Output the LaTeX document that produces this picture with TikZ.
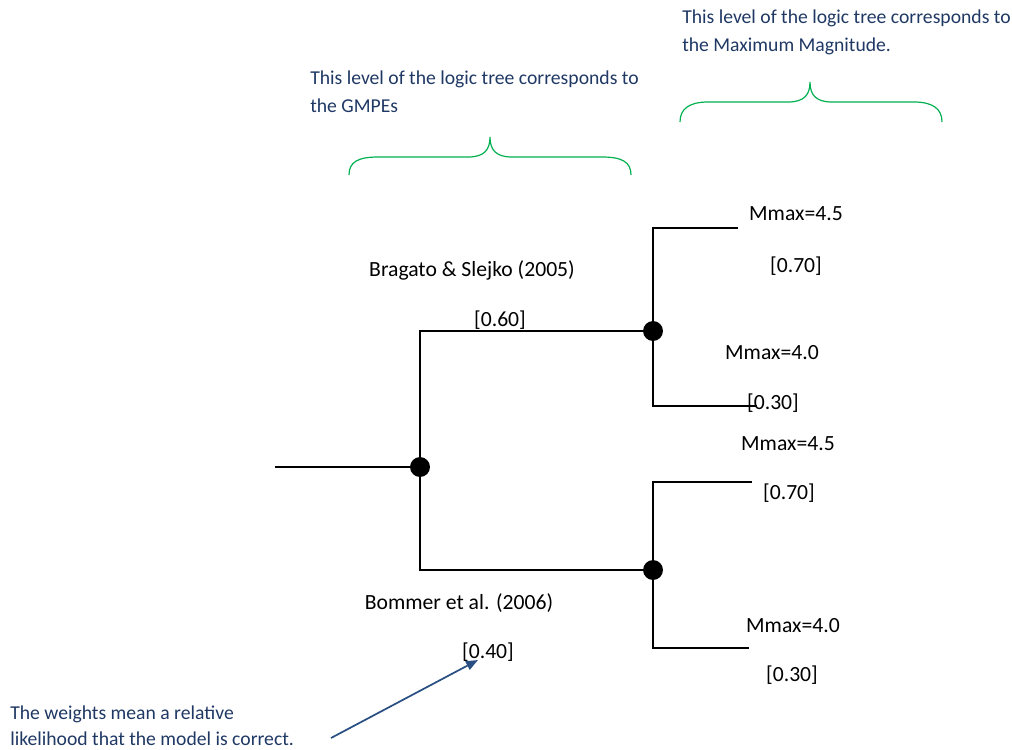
\documentclass[tikz,border=0pt]{standalone}
\usepackage{fontspec}
\setmainfont{Carlito}
\usetikzlibrary{arrows.meta,positioning}
\definecolor{notecol}{RGB}{31,56,100}
\definecolor{bracecol}{RGB}{0,176,80}
\definecolor{arrowcol}{RGB}{41,79,130}

\tikzset{
  branch/.style={line width=1pt, black},
  chance/.style={circle, fill=black, inner sep=0pt, minimum size=15pt},
  lbl/.style={font=\fontsize{16.3}{19}\selectfont, inner sep=0pt},
  note/.style={notecol, align=left, anchor=west, inner sep=0pt, font=\fontsize{14.8}{21}\selectfont},
  levelbrace/.style={bracecol, line width=0.9pt},
}

\begin{document}
\begin{tikzpicture}[x=0.0264583cm, y=-0.0264583cm]
  \useasboundingbox (0,0) rectangle (1012,749);

  % Chance nodes
  \node[chance] (root) at (420,467) {};
  \node[chance] (gmpeA) at (653,331) {};
  \node[chance] (gmpeB) at (653,570) {};
  \coordinate (start) at (275,467);

  % Branch ends
  \coordinate (endA1) at (738,228);
  \coordinate (endA2) at (757,406);
  \coordinate (endB1) at (752,482);
  \coordinate (endB2) at (749,648);

  % Tree
  \draw[branch] (start) -- (root);
  \draw[branch] (root.center) |- (gmpeA.center);
  \draw[branch] (root.center) |- (gmpeB.center);
  \draw[branch] (gmpeA.center) |- (endA1);
  \draw[branch] (gmpeA.center) |- (endA2);
  \draw[branch] (gmpeB.center) |- (endB1);
  \draw[branch] (gmpeB.center) |- (endB2);

  % GMPE branches
  \node[lbl] (bragato) at (472,270) {Bragato \& Slejko (2005)};
  \node[lbl] (wA) at (500,320) {[0.60]};
  \node[lbl] (bommer) at (459,603) {Bommer et al. (2006)};
  \node[lbl] (wB) at (488,652) {[0.40]};

  % Mmax branches
  \node[lbl] (mA1) at (796,214) {Mmax=4.5};
  \node[lbl] (wA1) at (796,266) {[0.70]};
  \node[lbl] (mA2) at (772,353) {Mmax=4.0};
  \node[lbl] (wA2) at (773,403) {[0.30]};
  \node[lbl] (mB1) at (788,444) {Mmax=4.5};
  \node[lbl] (wB1) at (789,493) {[0.70]};
  \node[lbl] (mB2) at (793,626) {Mmax=4.0};
  \node[lbl] (wB2) at (792,675) {[0.30]};

  % Level notes
  \node[note] (gmpeNote) at (310,92) {This level of the logic tree corresponds to\\the GMPEs};
  \node[note] (mmaxNote) at (682,32) {This level of the logic tree corresponds to\\the Maximum Magnitude.};

  % Braces
  \draw[levelbrace] (349,175) .. controls (349,162) and (358,157) .. (378,157) -- (468,157)
    .. controls (484,157) and (490,150) .. (490,137)
    .. controls (490,150) and (496,157) .. (512,157) -- (602,157)
    .. controls (622,157) and (631,162) .. (631,175);
  \draw[levelbrace] (680,122) .. controls (680,109) and (689,102) .. (708,102) -- (788,102)
    .. controls (804,102) and (810,95) .. (810,82)
    .. controls (810,95) and (816,102) .. (832,102) -- (914,102)
    .. controls (933,102) and (942,109) .. (942,122);

  % Weights note
  \node[note, font=\fontsize{14.8}{19.5}\selectfont] (weightNote) at (10,726) {The weights mean a relative\\likelihood that the model is correct.};
  \coordinate (arrowTail) at (331,738);
  \coordinate (arrowHead) at (478,660);
  \draw[-{Triangle[length=9pt,width=7pt]}, arrowcol, line width=1.3pt] (arrowTail) -- (arrowHead);
\end{tikzpicture}
\end{document}
